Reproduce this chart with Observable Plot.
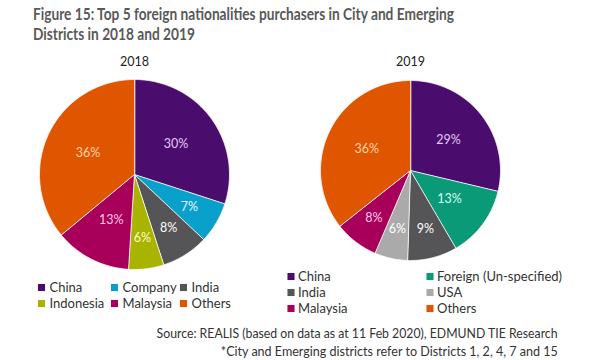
<!DOCTYPE html>
<html><head><meta charset="utf-8">
<script src="https://cdn.jsdelivr.net/npm/d3@7"></script>
<script src="https://cdn.jsdelivr.net/npm/@observablehq/plot@0.6"></script>
<style>
body{margin:0;background:#fff;width:600px;height:360px;overflow:hidden;font-family:Lato,"Open Sans",sans-serif;position:relative}
#title{position:absolute;left:33px;top:4px;font-weight:bold;color:#595959;font-size:17px;line-height:20px;white-space:nowrap}
#title span{display:inline-block;transform-origin:0 50%}
#chart{position:absolute;left:0;top:48px}
#caption{position:absolute;right:42px;top:325px;text-align:right;color:#333;font-size:12.5px;line-height:18px;white-space:nowrap}
#caption span{display:inline-block;transform-origin:100% 50%}
</style></head><body>
<div id="title"><span id="t1">Figure 15: Top 5 foreign nationalities purchasers in City and Emerging</span><br><span id="t2">Districts in 2018 and 2019</span></div>
<div id="chart"></div>
<div id="caption"><span id="c1">Source: REALIS (based on data as at 11 Feb 2020), EDMUND TIE Research</span><br><span id="c2">*City and Emerging districts refer to Districts 1, 2, 4, 7 and 15</span></div>
<script>
// ---- data ----
const years = ["2018", "2019"];
const categories2018 = ["China", "Company", "India", "Indonesia", "Malaysia", "Others"];
const values2018 = [30, 7, 8, 6, 13, 36];
const categories2019 = ["China", "Foreign (Un-specified)", "India", "USA", "Malaysia", "Others"];
const values2019 = [29, 13, 9, 6, 8, 36];
// legend order (row-major)
const legend2018 = ["China", "Company", "India", "Indonesia", "Malaysia", "Others"];
const legend2019 = ["China", "Foreign (Un-specified)", "India", "USA", "Malaysia", "Others"];

// ---- styles ----
const colorDomain = ["China", "Company", "India", "Indonesia", "Malaysia", "Others", "Foreign (Un-specified)", "USA"];
const colorRange  = ["#4a0d6e", "#0aa0cc", "#555558", "#a8b400", "#a8005a", "#e05500", "#0a9a78", "#aaaaaa"];
const labelColors = {"China":"#e5c8f5","Company":"#e4f6ff","India":"#ffffff","Indonesia":"#fffbd0","Malaysia":"#ffc8e6","Others":"#ffd3ad","Foreign (Un-specified)":"#d2fff0","USA":"#ffffff"};

// ---- layout ----
const W = 600, H = 274;
const pies = [
  {year: years[0], cats: categories2018, vals: values2018, cx: 134, cy: 126, r: 95, legend: legend2018,
   legendCols: [41, 114, 183], legendRows: [239, 255], textDx: 8},
  {year: years[1], cats: categories2019, vals: values2019, cx: 410, cy: 122, r: 90, legend: legend2019,
   legendCols: [290.5, 429.5], legendRows: [228, 244, 260], textDx: 7}
];

const slicePts = [], labels = [], yearLabels = [], legendItems = [];
for (const p of pies) {
  const arcs = d3.pie().sort(null).value(d => d.v)(p.cats.map((c, i) => ({c, v: p.vals[i]})));
  for (const a of arcs) {
    const key = p.year + "|" + a.data.c;
    slicePts.push({key, cat: a.data.c, x: p.cx, y: p.cy});
    const n = Math.max(2, Math.ceil((a.endAngle - a.startAngle) / 0.01));
    for (let k = 0; k <= n; k++) {
      const t = a.startAngle + (a.endAngle - a.startAngle) * k / n;
      slicePts.push({key, cat: a.data.c, x: p.cx + p.r * Math.sin(t), y: p.cy - p.r * Math.cos(t)});
    }
    const mid = (a.startAngle + a.endAngle) / 2;
    const lr = p.r * (a.data.v >= 10 ? 0.54 : 0.67);
    labels.push({cat: a.data.c, text: a.data.v + "%", x: p.cx + lr * Math.sin(mid), y: p.cy - lr * Math.cos(mid)});
  }
  yearLabels.push({text: p.year, x: p.cx, y: 13});
  const nc = p.legendCols.length;
  p.legend.forEach((c, i) => {
    legendItems.push({cat: c, x: p.legendCols[i % nc], y: p.legendRows[Math.floor(i / nc)], dx: p.textDx});
  });
}

const marks = [
  Plot.line(slicePts, {x: "x", y: "y", z: "key", fill: "cat", stroke: "white", strokeWidth: 0.8, curve: "linear-closed"}),
  Plot.text(yearLabels, {x: "x", y: "y", text: "text", fill: "#222", fontSize: 12.5}),
  Plot.dot(legendItems, {x: "x", y: "y", fill: "cat", symbol: "square", r: 4}),
  Plot.text(legendItems, {x: d => d.x + d.dx, y: "y", text: "cat", textAnchor: "start", fill: "#333", fontSize: 13})
];
for (const l of labels) {
  marks.push(Plot.text([l], {x: "x", y: "y", text: "text", fill: labelColors[l.cat], fontSize: 12.5}));
}

const chart = Plot.plot({
  width: W, height: H, margin: 0,
  style: {fontFamily: "Lato, 'Open Sans', sans-serif", background: "#fff"},
  x: {domain: [0, W], range: [0, W], axis: null},
  y: {domain: [0, H], range: [0, H], axis: null},
  color: {domain: colorDomain, range: colorRange},
  marks
});
document.getElementById("chart").appendChild(chart);

// fit HTML text widths to the reference
function fit(id, target, others = []) {
  const el = document.getElementById(id);
  const w = el.getBoundingClientRect().width;
  if (w > 0) {
    const s = target / w;
    el.style.transform = `scaleX(${s})`;
    for (const o of others) document.getElementById(o).style.transform = `scaleX(${s})`;
  }
}
fit("t1", 421, ["t2"]);
fit("c1", 401);
fit("c2", 337);
</script>
</body></html>
